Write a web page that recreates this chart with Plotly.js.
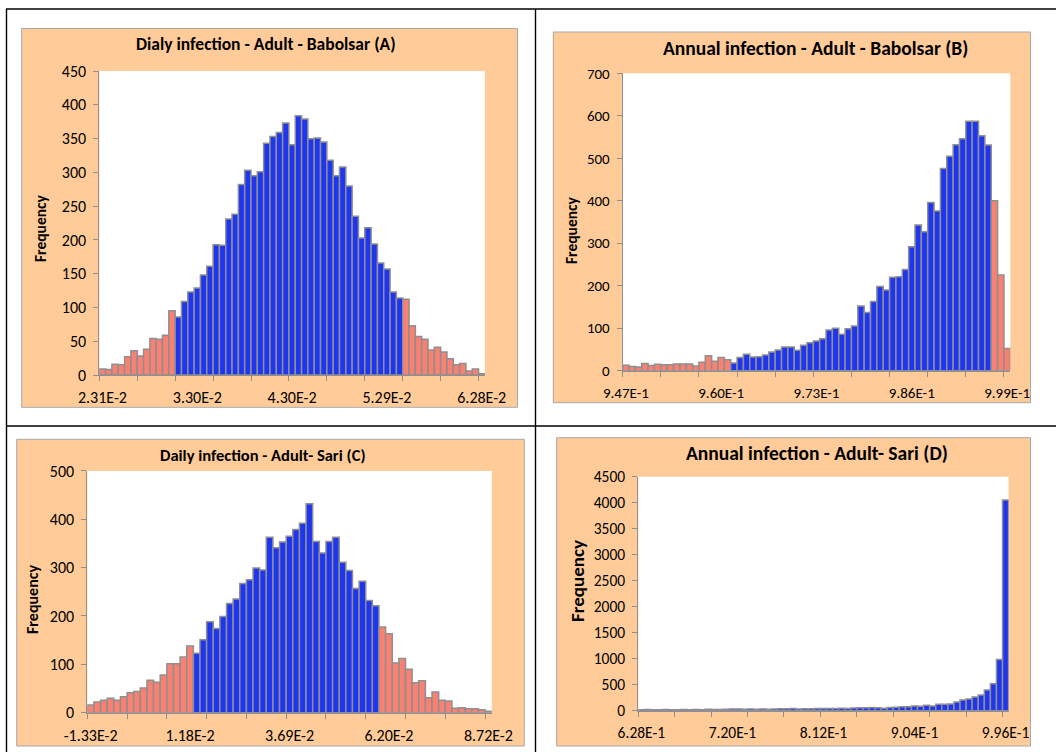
<!DOCTYPE html>
<html><head><meta charset="utf-8">
<script src="https://cdn.plot.ly/plotly-3.0.1.min.js"></script>
<style>html,body{margin:0;padding:0;background:#fff}#chart{width:1056px;height:752px}</style>
</head><body><div id="chart"></div>
<script>
// ---- data (frequency per bin, 61 bins per panel) ----
const countsA = [9,8,16,15,27,36,28,38,54,53,59,95,86,109,123,129,148,161,193,192,231,238,282,303,295,301,343,353,359,373,341,384,379,350,351,345,318,295,308,280,235,203,218,194,166,157,123,114,112,73,57,53,37,41,34,24,15,17,6,9,2];
const countsB = [13,10,9,17,12,15,14,14,16,16,16,11,20,35,22,31,26,18,31,39,32,33,37,44,49,56,56,48,60,66,70,75,96,100,86,99,105,152,137,163,198,190,220,221,238,292,343,327,396,376,476,505,532,546,587,587,553,531,400,225,52];
const countsC = [16,22,26,30,26,33,41,44,51,67,63,78,101,101,115,138,123,151,188,174,199,226,235,267,275,299,295,363,341,353,365,379,392,432,354,330,354,363,311,294,257,272,232,221,177,163,103,112,90,62,66,31,43,26,24,9,10,8,8,6,3];
const countsD = [20,22,20,18,22,20,16,22,18,24,20,26,24,22,28,32,34,30,32,30,32,30,34,36,38,44,34,38,36,40,42,44,40,46,44,52,58,56,60,58,48,62,66,74,76,88,86,103,92,122,124,128,168,205,226,262,300,397,516,987,4051];

const labelsA = ['2.31E-2','3.30E-2','4.30E-2','5.29E-2','6.28E-2'];
const labelsB = ['9.47E-1','9.60E-1','9.73E-1','9.86E-1','9.99E-1'];
const labelsC = ['-1.33E-2','1.18E-2','3.69E-2','6.20E-2','8.72E-2'];
const labelsD = ['6.28E-1','7.20E-1','8.12E-1','9.04E-1','9.96E-1'];

// number of bins in lower / upper tail (drawn in salmon)
const tailsA = [12, 13];
const tailsB = [17, 3];
const tailsC = [16, 17];
const tailsD = [0, 0];

const titleA = 'Dialy infection - Adult - Babolsar (A)';
const titleB = 'Annual infection - Adult - Babolsar (B)';
const titleC = 'Daily infection - Adult- Sari (C)';
const titleD = 'Annual infection - Adult- Sari (D)';
const yTitle = 'Frequency';

// ---- styling / layout ----
const W = 1056, H = 752;
const FONT = 'Carlito, Calibri, Lato, sans-serif';
const BLUE = '#1f36f0', SALMON = '#fa8072', BOX = '#ffcc99', EDGE = '#8f8f8f';
const px = v => v / W, py = v => 1 - v / H;

const panels = [
  {counts: countsA, labels: labelsA, tails: tailsA, title: titleA, ymax: 450, dy: 50,
   plot: [99.3, 484.9, 71.1, 375], box: [21.7, 517.5, 28.5, 407.3], tpos: [266, 44], fpos: [40, 229], fsize: 15.5, tsize: 16, hsize: 17.5},
  {counts: countsB, labels: labelsB, tails: tailsB, title: titleB, ymax: 700, dy: 100,
   plot: [622.7, 1010.3, 73.3, 370.7], box: [553.3, 1030.5, 32, 402.7], tpos: [815, 48], fpos: [571, 231], fsize: 15.5, tsize: 15, hsize: 19.5},
  {counts: countsC, labels: labelsC, tails: tailsC, title: titleC, ymax: 500, dy: 100,
   plot: [87.3, 491.7, 470.9, 712.7], box: [16.7, 524.3, 439.3, 746], tpos: [263, 455], fpos: [32, 600], fsize: 16, tsize: 16, hsize: 16.5},
  {counts: countsD, labels: labelsD, tails: tailsD, title: titleD, ymax: 4500, dy: 500,
   plot: [638.3, 1008.6, 476.7, 710.7], box: [556.7, 1030.5, 437.7, 746], tpos: [817, 453], fpos: [577, 581], fsize: 19, tsize: 15.5, hsize: 19.5}
];

const data = [], shapes = [], annotations = [];
const layout = {
  width: W, height: H, margin: {l: 0, r: 0, t: 0, b: 0},
  paper_bgcolor: '#ffffff', plot_bgcolor: '#ffffff',
  bargap: 0, showlegend: false, font: {family: FONT, color: '#000'},
  hovermode: false
};

panels.forEach((p, i) => {
  const n = p.counts.length;
  const sfx = i === 0 ? '' : String(i + 1);
  const colors = p.counts.map((_, k) => (k < p.tails[0] || k >= n - p.tails[1]) ? SALMON : BLUE);
  data.push({
    type: 'bar', y: p.counts, x0: 1, dx: 1, width: 1,
    xaxis: 'x' + sfx, yaxis: 'y' + sfx,
    marker: {color: colors, line: {color: EDGE, width: 1.5}}
  });
  const tickvals = p.labels.map((_, j) => 1 + j * (n - 1) / (p.labels.length - 1));
  layout['xaxis' + sfx] = {
    domain: [px(p.plot[0]), px(p.plot[1])], anchor: 'y' + sfx,
    range: [0.5, n + 0.5], showgrid: false, zeroline: false,
    showline: true, linecolor: EDGE, linewidth: 1,
    tickmode: 'array', tickvals: tickvals, ticktext: p.labels, ticks: '',
    ticklabelstandoff: 8, tickfont: {family: FONT, size: p.tsize, color: '#000'},
    minor: {tickmode: 'linear', tick0: 0.5, dtick: 6, ticks: 'outside', ticklen: 5, tickwidth: 1, tickcolor: EDGE, showgrid: false},
    fixedrange: true
  };
  layout['yaxis' + sfx] = {
    domain: [py(p.plot[3]), py(p.plot[2])], anchor: 'x' + sfx,
    range: [0, p.ymax], dtick: p.dy, tick0: 0, showgrid: false, zeroline: false,
    showline: true, linecolor: EDGE, linewidth: 1,
    ticks: 'outside', ticklen: 5, tickwidth: 1, tickcolor: EDGE,
    ticklabelstandoff: 4, tickfont: {family: FONT, size: p.tsize, color: '#000'},
    fixedrange: true
  };
  shapes.push({type: 'rect', xref: 'paper', yref: 'paper', layer: 'below',
    x0: px(p.box[0]), x1: px(p.box[1]), y0: py(p.box[3]), y1: py(p.box[2]),
    fillcolor: BOX, line: {color: '#a8a8a8', width: 1}});
  shapes.push({type: 'rect', xref: 'x' + sfx + ' domain', yref: 'y' + sfx + ' domain', layer: 'below',
    x0: 0, x1: 1, y0: 0, y1: 1, fillcolor: '#ffffff', line: {width: 0}});
  annotations.push({xref: 'paper', yref: 'paper', x: px(p.tpos[0]), y: py(p.tpos[1]),
    xanchor: 'center', yanchor: 'middle', showarrow: false,
    text: '<b>' + p.title + '</b>', font: {family: FONT, size: p.hsize, color: '#000'}});
  annotations.push({xref: 'paper', yref: 'paper', x: px(p.fpos[0]), y: py(p.fpos[1]),
    xanchor: 'center', yanchor: 'middle', showarrow: false, textangle: -90,
    text: '<b>' + yTitle + '</b>', font: {family: FONT, size: p.fsize, color: '#000'}});
});

// table grid lines
const gridLines = [[6, 9, 1056, 9], [6.5, 9, 6.5, 752], [535.5, 9, 535.5, 752], [6, 426, 1056, 426]];
gridLines.forEach(g => shapes.push({type: 'line', xref: 'paper', yref: 'paper',
  x0: px(g[0]), y0: py(g[1]), x1: px(g[2]), y1: py(g[3]), line: {color: '#000', width: 1.4}}));

layout.shapes = shapes;
layout.annotations = annotations;
Plotly.newPlot('chart', data, layout, {displayModeBar: false, staticPlot: true});
</script></body></html>
